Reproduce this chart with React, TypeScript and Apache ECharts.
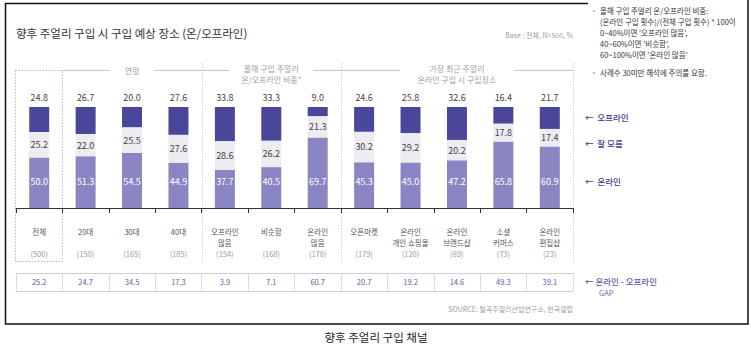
import React, { useEffect, useRef } from "react";
import * as echarts from "echarts";

const categories = [
  "전체",
  "20대",
  "30대",
  "40대",
  "오프라인\n많음",
  "비슷함",
  "온라인\n많음",
  "오픈마켓",
  "온라인\n개인 쇼핑몰",
  "온라인\n브랜드샵",
  "소셜\n커머스",
  "온라인\n편집샵",
];
const sampleSizes = [500, 150, 165, 185, 154, 168, 178, 179, 120, 89, 73, 23];
const offline = [24.8, 26.7, 20.0, 27.6, 33.8, 33.3, 9.0, 24.6, 25.8, 32.6, 16.4, 21.7];
const unknown = [25.2, 22.0, 25.5, 27.6, 28.6, 26.2, 21.3, 30.2, 29.2, 20.2, 17.8, 17.4];
const online = [50.0, 51.3, 54.5, 44.9, 37.7, 40.5, 69.7, 45.3, 45.0, 47.2, 65.8, 60.9];
const gap = [25.2, 24.7, 34.5, 17.3, 3.9, 7.1, 60.7, 20.7, 19.2, 14.6, 49.3, 39.1];

const seriesNames = ["온라인", "잘 모름", "오프라인"];
const groupHeaders = [
  { label: "연령", from: 1, to: 4 },
  { label: "올해 구입 주얼리\n온/오프라인 비중*", from: 4, to: 7 },
  { label: "가장 최근 주얼리\n온라인 구입 시 구입장소", from: 7, to: 12 },
];
const groupBoundaries = [4, 7, 12];

const title = "향후 주얼리 구입 시 구입 예상 장소 (온/오프라인)";
const baseNote = "Base : 전체, N=500, %";
const sourceNote = "SOURCE: 월곡주얼리산업연구소, 한국갤럽";
const caption = "향후 주얼리 구입 채널";
const noteLines = [
  "올해 구입 주얼리 온/오프라인 비중:",
  "(온라인 구입 횟수)/(전체 구입 횟수) * 100이",
  "0~40%이면 '오프라인 많음',",
  "40~60%이면 '비슷함',",
  "60~100%이면 '온라인 많음'",
];
const noteLine2 = "사례수 30미만 해석에 주의를 요함.";
const gapLegend = "← 온라인 - 오프라인";

// layout
const FONT = "'Noto Sans CJK KR', 'Noto Sans', sans-serif";
const GL = 16;
const GT = 107;
const GW = 557;
const GH = 101;
const catW = GW / categories.length;
const bx = (i: number) => GL + i * catW;
const headerGapHalf = [22, 42, 57];

const C_OFF = "#4a479b";
const C_UNK = "#ececf1";
const C_ON = "#8a86c3";
const C_LEG = "#3f3c90";

export default function App() {
  const ref = useRef<HTMLDivElement>(null);
  useEffect(() => {
    if (!ref.current) return;
    const chart = echarts.init(ref.current, null, { renderer: "svg" });

    const graphic: any[] = [];
    graphic.push({
      type: "polyline",
      shape: { points: [[588, 3.5], [5.5, 3.5], [5.5, 324], [748, 324], [748, 0]] },
      style: { stroke: "#111", lineWidth: 1.5, fill: null },
      silent: true,
    });
    graphic.push({
      type: "text",
      style: { text: title, x: 16, y: 33, fill: "#333", fontSize: 11.5, fontFamily: FONT, verticalAlign: "middle" },
    });
    graphic.push({
      type: "text",
      style: { text: baseNote, x: 573, y: 35, fill: "#9a9a9a", fontSize: 7, fontFamily: FONT, textAlign: "right", verticalAlign: "middle" },
    });
    graphic.push({
      type: "text",
      style: { text: "•", x: 594, y: 10, fill: "#aaa", fontSize: 7, fontFamily: FONT, textAlign: "center", verticalAlign: "middle" },
    });
    noteLines.forEach((t, i) => {
      graphic.push({
        type: "text",
        style: { text: t, x: 600, y: 10 + i * 11, fill: "#333", fontSize: 7.5, fontFamily: FONT, verticalAlign: "middle" },
      });
    });
    graphic.push({
      type: "text",
      style: { text: "•", x: 594, y: 72, fill: "#aaa", fontSize: 7, fontFamily: FONT, textAlign: "center", verticalAlign: "middle" },
    });
    graphic.push({
      type: "text",
      style: { text: noteLine2, x: 600, y: 72, fill: "#333", fontSize: 7.5, fontFamily: FONT, verticalAlign: "middle" },
    });
    groupHeaders.forEach((g, k) => {
      const x0 = bx(g.from);
      const x1 = bx(g.to);
      const cx = (x0 + x1) / 2;
      const h = headerGapHalf[k];
      graphic.push({ type: "line", shape: { x1: x0, y1: 70.5, x2: cx - h, y2: 70.5 }, style: { stroke: "#c8c8c8", lineWidth: 1 } });
      graphic.push({ type: "line", shape: { x1: cx + h, y1: 70.5, x2: x1, y2: 70.5 }, style: { stroke: "#c8c8c8", lineWidth: 1 } });
      graphic.push({
        type: "text",
        style: {
          text: g.label,
          x: cx,
          y: g.label.includes("\n") ? 74 : 70,
          fill: "#a0a0a0",
          fontSize: 8,
          lineHeight: 11,
          fontFamily: FONT,
          textAlign: "center",
          verticalAlign: "middle",
        },
      });
    });
    groupBoundaries.forEach((b) => {
      const x = Math.round(bx(b)) + 0.5;
      graphic.push({
        type: "line",
        shape: { x1: x, y1: 63, x2: x, y2: 262 },
        style: { stroke: "#cfcfcf", lineWidth: 1, lineDash: [1.5, 1.5] },
      });
    });
    graphic.push({
      type: "rect",
      shape: { x: 15.5, y: 70.5, width: bx(1) - 15.5, height: 191 },
      style: { stroke: "#e4a6b8", lineWidth: 1, lineDash: [1.5, 1.5], fill: null },
    });
    const legY = [117, 143, 181];
    [seriesNames[2], seriesNames[1], seriesNames[0]].forEach((n, i) => {
      graphic.push({
        type: "text",
        style: { text: "←  " + n, x: 585, y: legY[i], fill: C_LEG, fontSize: 8.5, fontWeight: 500, fontFamily: FONT, verticalAlign: "middle" },
      });
    });
    graphic.push({
      type: "text",
      style: { text: gapLegend, x: 585, y: 281, fill: "#5f5aa8", fontSize: 8.5, fontWeight: 500, fontFamily: FONT, verticalAlign: "middle" },
    });
    graphic.push({
      type: "text",
      style: { text: "GAP", x: 599, y: 292, fill: "#6f6ab0", fontSize: 7.5, fontFamily: FONT, verticalAlign: "middle" },
    });
    graphic.push({
      type: "text",
      style: { text: sourceNote, x: 573, y: 309, fill: "#a0a0a0", fontSize: 7, fontFamily: FONT, textAlign: "right", verticalAlign: "middle" },
    });
    graphic.push({
      type: "text",
      style: { text: caption, x: 376, y: 337, fill: "#222", fontSize: 11.5, fontFamily: FONT, textAlign: "center", verticalAlign: "middle" },
    });

    const grid = { left: GL, top: GT, width: GW, height: GH };
    const option: any = {
      animation: false,
      textStyle: { fontFamily: FONT },
      grid,
      xAxis: [
        {
          type: "category",
          data: categories,
          axisLine: { lineStyle: { color: "#333", width: 1 } },
          axisTick: { show: true, length: 5, lineStyle: { color: "#333" } },
          axisLabel: {
            interval: 0,
            margin: 18,
            formatter: (v: string, i: number) => {
              const lines = v.split("\n");
              let s = lines.map((l) => `{n|${l}}`).join("\n");
              if (lines.length === 1) s += "\n{n| }";
              return s + `\n{c|(${sampleSizes[i]})}`;
            },
            rich: {
              n: { fontSize: 7.5, color: "#555", lineHeight: 11, fontFamily: FONT },
              c: { fontSize: 7.5, color: "#9a9a9a", lineHeight: 11, fontFamily: FONT },
            },
          },
        },
        {
          type: "category",
          data: gap.map((g) => g.toFixed(1)),
          position: "bottom",
          offset: 65,
          axisLine: { lineStyle: { color: "#cfcfcf", width: 1 } },
          axisTick: { show: true, length: 18, lineStyle: { color: "#dcdcdc" } },
          axisLabel: { interval: 0, margin: 5, color: "#5f5aa8", fontSize: 7.5, fontFamily: FONT },
        },
        {
          type: "category",
          data: categories,
          position: "bottom",
          offset: 83,
          axisLine: { lineStyle: { color: "#cfcfcf", width: 1 } },
          axisTick: { show: false },
          axisLabel: { show: false },
        },
      ],
      yAxis: { type: "value", min: 0, max: 100, show: false },
      series: [
        {
          name: seriesNames[0],
          type: "bar",
          stack: "s",
          data: online,
          barWidth: 20,
          itemStyle: { color: C_ON },
          label: { show: true, position: "insideBottom", distance: 22, color: "#fff", fontSize: 9, fontFamily: FONT, formatter: (p: any) => p.value.toFixed(1) },
        },
        {
          name: seriesNames[1],
          type: "bar",
          stack: "s",
          data: unknown,
          barWidth: 20,
          itemStyle: { color: C_UNK },
          label: { show: true, position: "inside", color: "#444", fontSize: 9, fontFamily: FONT, formatter: (p: any) => p.value.toFixed(1) },
        },
        {
          name: seriesNames[2],
          type: "bar",
          stack: "s",
          data: offline,
          barWidth: 20,
          itemStyle: { color: C_OFF },
          label: { show: true, position: "top", distance: 5, color: "#444", fontSize: 9, fontFamily: FONT, formatter: (p: any) => p.value.toFixed(1) },
        },
      ],
      graphic,
    };
    chart.setOption(option);
    return () => chart.dispose();
  }, []);
  return (
    <div
      ref={ref}
      style={{ position: "absolute", left: 0, top: 0, width: 751, height: 351, background: "#fff" }}
    />
  );
}
